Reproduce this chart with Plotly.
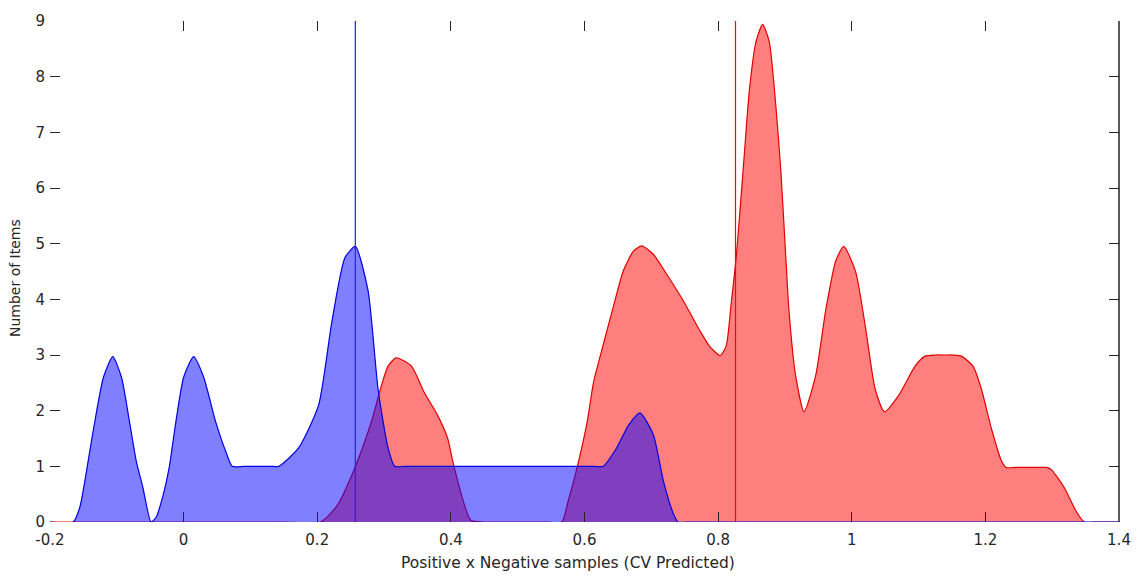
import plotly.graph_objects as go

# Negative samples (blue) distribution
neg_x = [-0.2, -0.1653, -0.1553, -0.1405, -0.133, -0.12, -0.106, -0.093, -0.081, -0.071, -0.061, -0.0487,
         -0.041, -0.0314, -0.0216, -0.0116, 0.0, 0.015, 0.03, 0.048, 0.063, 0.0728,
         0.09, 0.11, 0.13, 0.1423, 0.172, 0.202, 0.2215, 0.2415, 0.257, 0.276, 0.291, 0.306, 0.316,
         0.33, 0.36, 0.40, 0.45, 0.50, 0.55, 0.59, 0.615, 0.628, 0.648, 0.666, 0.683, 0.703, 0.718,
         0.733, 0.740, 0.76, 0.9, 1.1, 1.3, 1.4]
neg_y = [0, 0, 0.27, 1.27, 1.8, 2.6, 2.97, 2.6, 1.8, 1.1, 0.62, 0,
         0.09, 0.45, 0.98, 1.8, 2.6, 2.97, 2.6, 1.8, 1.27, 1.0,
         1.0, 1.0, 1.0, 1.0, 1.33, 2.1, 3.57, 4.75, 4.95, 4.16, 2.39, 1.33, 1.0,
         1.0, 1.0, 1.0, 1.0, 1.0, 1.0, 1.0, 1.0, 1.0, 1.33, 1.74, 1.96, 1.57, 0.74,
         0.15, 0, 0, 0, 0, 0, 0]

# Positive samples (red) distribution
pos_x = [-0.2, 0.0, 0.15, 0.205, 0.23, 0.2565, 0.281, 0.296, 0.306, 0.318, 0.341, 0.36, 0.38, 0.395, 0.405,
         0.43, 0.45, 0.5, 0.545, 0.566, 0.575, 0.589, 0.604, 0.6135, 0.6235, 0.643, 0.658, 0.673, 0.6856,
         0.703, 0.723, 0.7476, 0.772, 0.787, 0.803, 0.812, 0.819, 0.827, 0.8318, 0.839, 0.8467, 0.8567,
         0.8666, 0.8765, 0.8865, 0.894, 0.9013, 0.906, 0.916, 0.9286, 0.946, 0.961, 0.976, 0.988, 1.0055,
         1.0204, 1.035, 1.049, 1.070, 1.0948, 1.1097, 1.125, 1.14, 1.152, 1.164, 1.1816, 1.194, 1.209,
         1.224, 1.231, 1.245, 1.26, 1.275, 1.291, 1.298, 1.318, 1.335, 1.348, 1.37, 1.4]
pos_y = [0, 0, 0, 0, 0.3, 0.98, 1.8, 2.45, 2.8, 2.95, 2.8, 2.33, 1.92, 1.51, 0.98,
         0.03, 0, 0, 0, 0, 0.35, 0.98, 1.8, 2.51, 2.98, 3.86, 4.51, 4.86, 4.96,
         4.81, 4.45, 3.98, 3.45, 3.16, 2.99, 3.16, 3.86, 4.75, 5.45, 6.57, 7.75, 8.63,
         8.94, 8.63, 7.46, 6.28, 4.75, 3.8, 2.63, 1.98, 2.63, 3.8, 4.69, 4.95, 4.51,
         3.51, 2.39, 1.98, 2.27, 2.8, 2.98, 3.0, 3.0, 3.0, 2.98, 2.8, 2.39, 1.68,
         1.1, 0.98, 0.98, 0.98, 0.98, 0.98, 0.95, 0.62, 0.21, 0, 0, 0]

neg_mean = 0.257
pos_mean = 0.826

x_ticks = [-0.2, 0, 0.2, 0.4, 0.6, 0.8, 1, 1.2, 1.4]
x_tick_text = ["-0.2", "0", "0.2", "0.4", "0.6", "0.8", "1", "1.2", "1.4"]
y_ticks = [0, 1, 2, 3, 4, 5, 6, 7, 8, 9]

fig = go.Figure()
fig.add_trace(go.Scatter(x=pos_x, y=pos_y, mode="lines", fill="tozeroy",
                         fillcolor="rgba(255,0,0,0.5)",
                         line=dict(color="#E00000", width=1.2, shape="spline", smoothing=0.6)))
fig.add_trace(go.Scatter(x=neg_x, y=neg_y, mode="lines", fill="tozeroy",
                         fillcolor="rgba(0,0,255,0.5)",
                         line=dict(color="#0000E0", width=1.2, shape="spline", smoothing=0.6)))
fig.add_trace(go.Scatter(x=[neg_mean, neg_mean], y=[0, 9], mode="lines",
                         line=dict(color="#2222EE", width=1.2)))
fig.add_trace(go.Scatter(x=[pos_mean, pos_mean], y=[0, 9], mode="lines",
                         line=dict(color="#E01010", width=1.2)))

fig.add_shape(type="line", xref="paper", yref="paper", x0=1, x1=1, y0=0, y1=1,
              line=dict(color="#000000", width=1.3))

fig.add_annotation(text="Positive x Negative samples (CV Predicted)", xref="paper", yref="paper",
                   x=0.485, y=0, yshift=-41, showarrow=False, xanchor="center", yanchor="middle",
                   font=dict(size=15.5))
fig.add_annotation(text="Number of Items", xref="paper", yref="paper",
                   x=0, xshift=-35, y=0.487, showarrow=False, textangle=-90,
                   xanchor="center", yanchor="middle", font=dict(size=14))

fig.update_layout(
    width=1143, height=576,
    margin=dict(l=50, r=18, t=13, b=54),
    paper_bgcolor="white", plot_bgcolor="white",
    showlegend=False,
    font=dict(family="DejaVu Sans, Verdana, sans-serif", size=15, color="#262626"),
    xaxis=dict(range=[-0.2, 1.4], tickvals=x_ticks, ticktext=x_tick_text,
               ticks="inside", ticklen=10, tickcolor="#262626", tickwidth=1,
               ticklabelstandoff=7, tickfont=dict(size=15),
               mirror="ticks", showline=False, showgrid=False, zeroline=False),
    yaxis=dict(range=[0, 9], tickvals=y_ticks,
               ticks="inside", ticklen=10, tickcolor="#262626", tickwidth=1,
               ticklabelstandoff=4, tickfont=dict(size=15),
               mirror="ticks", showline=False, showgrid=False, zeroline=False),
)

fig.write_html("out.html")
